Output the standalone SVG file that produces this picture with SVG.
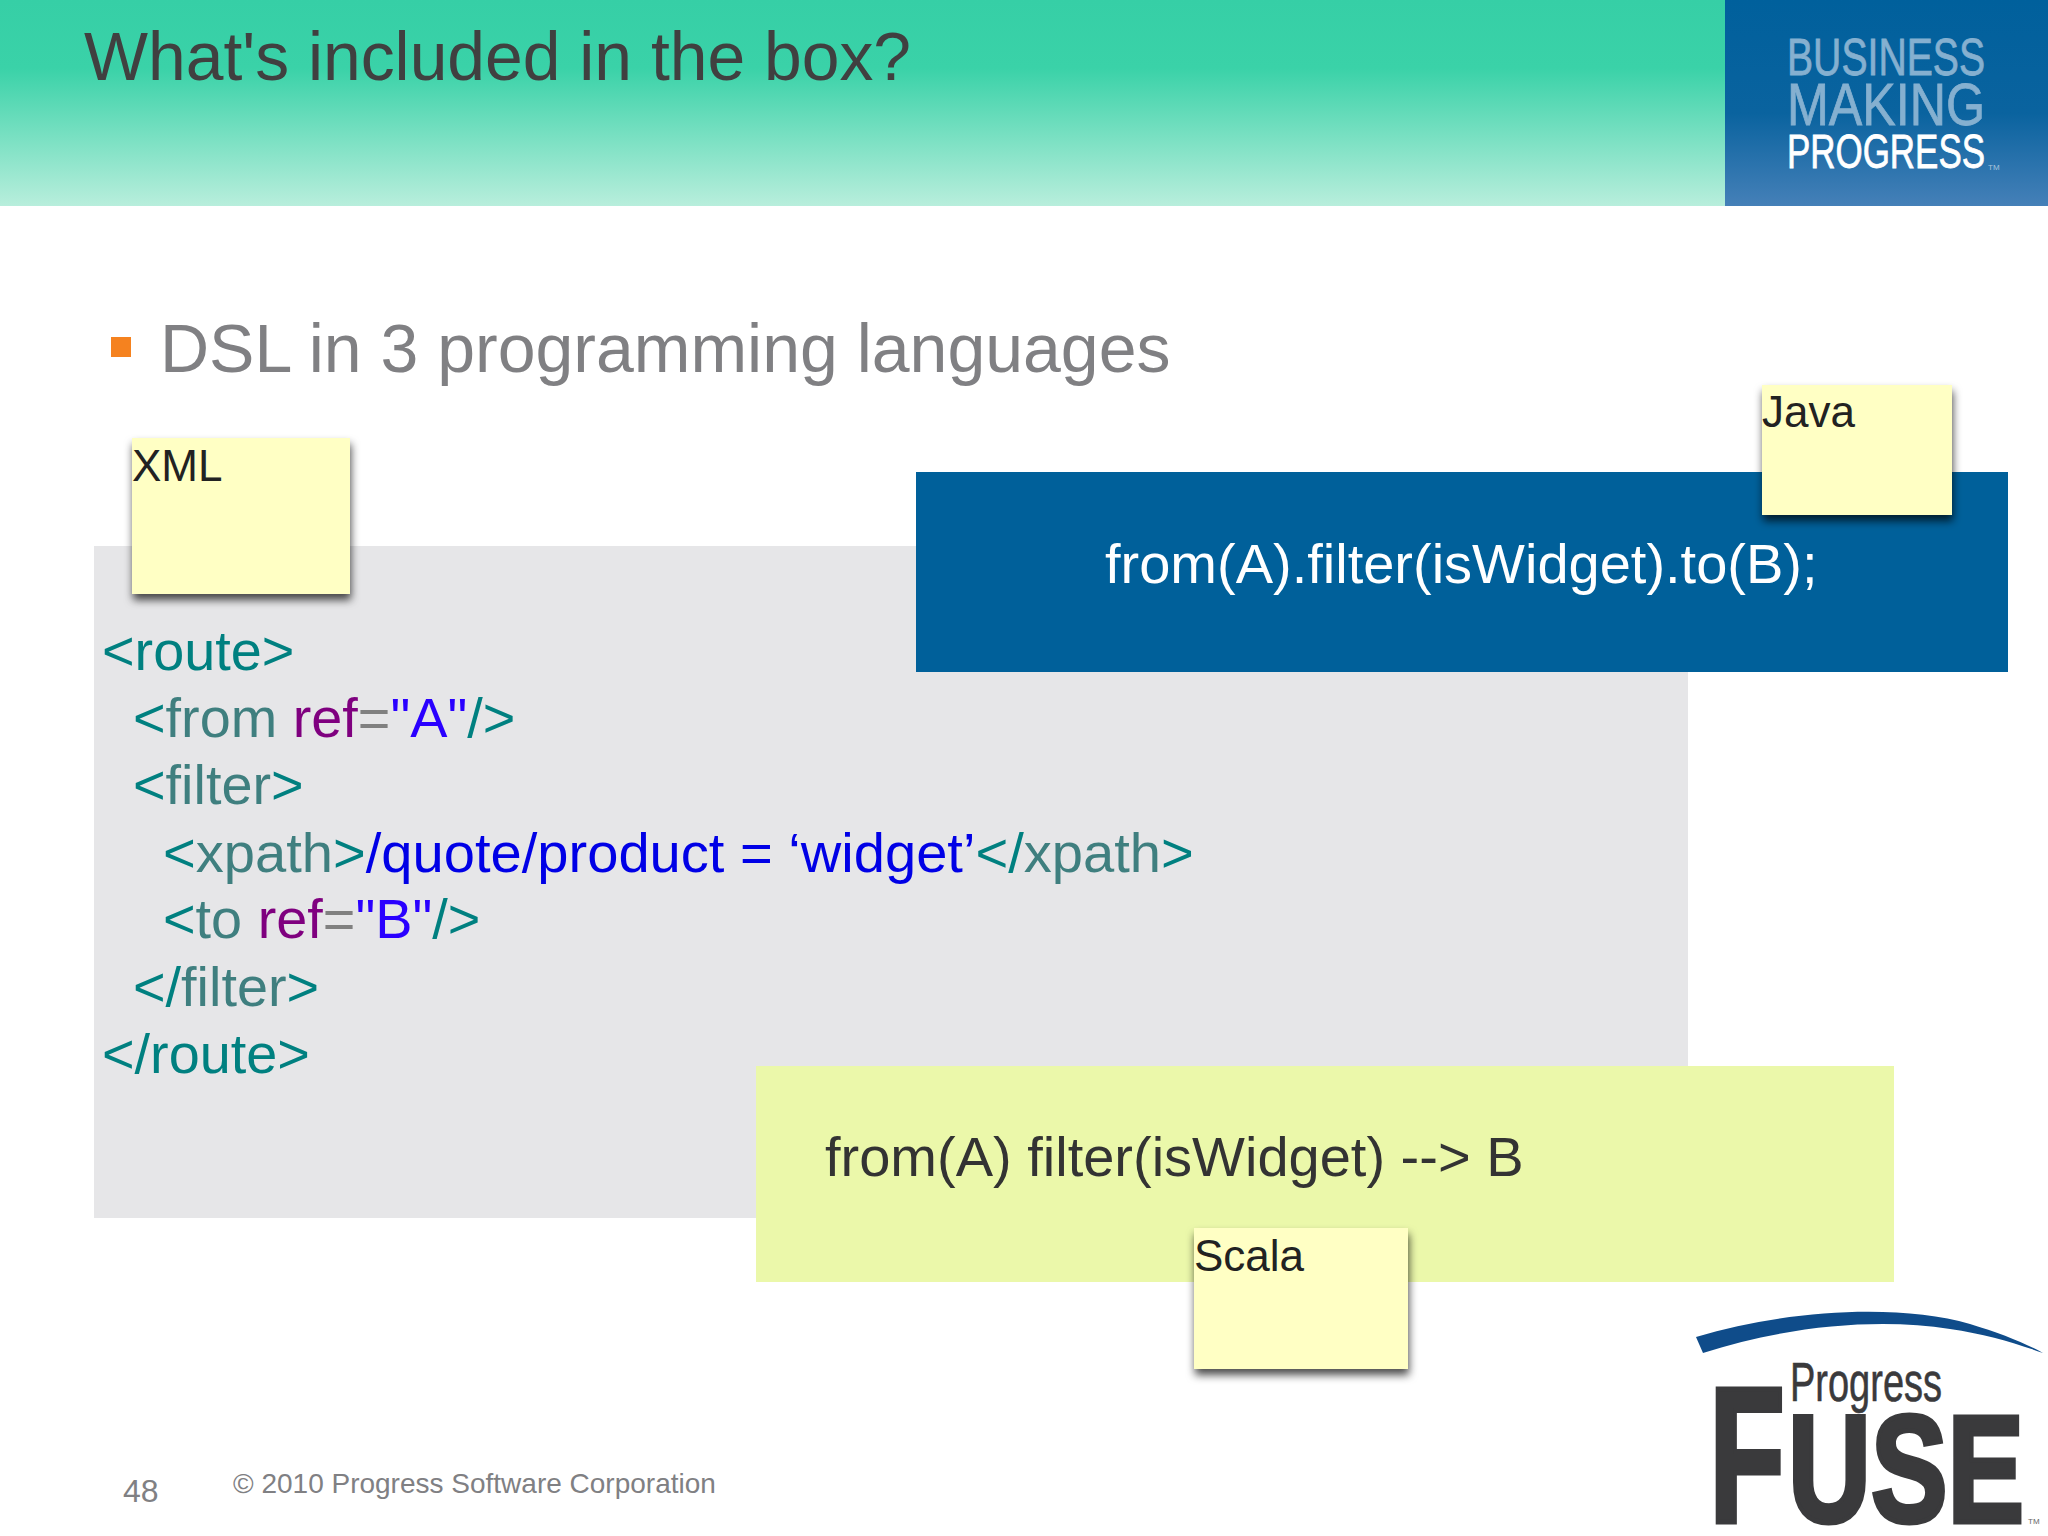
<svg xmlns="http://www.w3.org/2000/svg" width="2048" height="1536" viewBox="0 0 2048 1536">
<defs>
<linearGradient id="hdr" x1="0" y1="0" x2="0" y2="1"><stop offset="0" stop-color="#36cfa6"/><stop offset="0.33" stop-color="#3ad2a8"/><stop offset="1" stop-color="#b8eedc"/></linearGradient>
<linearGradient id="logo" x1="0" y1="0" x2="0" y2="1"><stop offset="0" stop-color="#00609c"/><stop offset="0.55" stop-color="#0a639f"/><stop offset="1" stop-color="#4580b8"/></linearGradient>
<filter id="sh" x="-10%" y="-10%" width="120%" height="125%"><feDropShadow dx="1" dy="6" stdDeviation="4" flood-color="#000" flood-opacity="0.7"/></filter>
</defs>
<style>
text{font-family:"Liberation Sans",Arial,sans-serif}
.code{font-size:55.8px;fill:#008080}
.tag{fill:#3f7f7f}.attr{fill:#7f007f}.eq{fill:#808080}.val{fill:#2a00ff}.body{fill:#0000e6}
.sticky{fill:#ffffc4;filter:url(#sh)}
.note{font-size:44px;fill:#222}
.logo{font-family:"Liberation Sans Narrow","Liberation Sans",sans-serif}
.heavy{fill:#3a3a3c;stroke:#3a3a3c;stroke-width:5}
</style>
<rect width="2048" height="1536" fill="#fff"/>
<g id="header">
<rect x="0" y="0" width="1725" height="206" fill="url(#hdr)"/>
<text x="84" y="80" font-size="67.8" fill="#404040">What's included in the box?</text>
</g>
<g id="brand">
<rect x="1725" y="0" width="323" height="206" fill="url(#logo)"/>
<text class="logo" x="1787" y="75" font-size="52" fill="#85b0d0" stroke="#85b0d0" stroke-width="0.8" textLength="198" lengthAdjust="spacingAndGlyphs">BUSINESS</text>
<text class="logo" x="1787" y="125" font-size="60" fill="#85b0d0" stroke="#85b0d0" stroke-width="0.8" textLength="198" lengthAdjust="spacingAndGlyphs">MAKING</text>
<text class="logo" x="1787" y="168" font-size="48" fill="#fff" stroke="#fff" stroke-width="0.8" textLength="198" lengthAdjust="spacingAndGlyphs">PROGRESS</text>
<text x="1988" y="170" font-size="8" fill="#a8c4dc">TM</text>
</g>
<g id="bullet">
<rect x="111" y="337" width="20" height="20" fill="#f5821f"/>
<text x="160" y="372" font-size="68" fill="#808083">DSL in 3 programming languages</text>
</g>
<g id="xml-panel">
<rect x="94" y="546" width="1594" height="672" fill="#e6e6e8"/>
<text class="code" x="102" y="670">&lt;<tspan>route</tspan>&gt;</text>
<text class="code" x="133" y="737">&lt;<tspan class="tag">from</tspan> <tspan class="attr">ref</tspan><tspan class="eq">=</tspan><tspan class="val">"A"</tspan>/&gt;</text>
<text class="code" x="133" y="804">&lt;<tspan class="tag">filter</tspan>&gt;</text>
<text class="code" x="163" y="872" style="font-size:56.1px">&lt;<tspan class="tag">xpath</tspan>&gt;<tspan class="body">/quote/product = ‘widget’</tspan>&lt;/<tspan class="tag">xpath</tspan>&gt;</text>
<text class="code" x="163" y="938">&lt;<tspan class="tag">to</tspan> <tspan class="attr">ref</tspan><tspan class="eq">=</tspan><tspan class="val">"B"</tspan>/&gt;</text>
<text class="code" x="133" y="1006">&lt;/<tspan class="tag">filter</tspan>&gt;</text>
<text class="code" x="102" y="1073">&lt;/<tspan>route</tspan>&gt;</text>
</g>
<g id="xml-note">
<rect class="sticky" x="132" y="438" width="218" height="156"/>
<text class="note" x="132" y="481">XML</text>
</g>
<g id="java-panel">
<rect x="916" y="472" width="1092" height="200" fill="#00609a"/>
<text x="1105" y="583" font-size="56" fill="#fff">from(A).filter(isWidget).to(B);</text>
</g>
<g id="java-note">
<rect class="sticky" x="1762" y="385" width="190" height="130"/>
<text class="note" x="1762" y="427">Java</text>
</g>
<g id="scala-panel">
<rect x="756" y="1066" width="1138" height="216" fill="#ebf8aa"/>
<text x="825" y="1176" font-size="56" fill="#333">from(A) filter(isWidget) --&gt; B</text>
</g>
<g id="scala-note">
<rect class="sticky" x="1194" y="1228" width="214" height="141"/>
<text class="note" x="1194" y="1271">Scala</text>
</g>
<g id="footer">
<text x="123" y="1502" font-size="32" fill="#808083">48</text>
<text x="233" y="1493" font-size="28" fill="#808083">© 2010 Progress Software Corporation</text>
</g>
<g id="fuse-logo">
<path d="M1696 1337C1790 1309 1900 1304 1970 1324C2000 1333 2025 1343 2043 1353C2015 1343 1985 1334 1950 1329C1880 1318 1790 1325 1703 1353Z" fill="#0f4c8a"/>
<text class="logo" x="1790" y="1401" font-size="56" fill="#3a3a3c" stroke="#3a3a3c" stroke-width="0.6" textLength="152" lengthAdjust="spacingAndGlyphs">Progress</text>
<text class="heavy" x="1709" y="1522" font-size="193" font-weight="bold" textLength="76" lengthAdjust="spacingAndGlyphs">F</text>
<text class="heavy" x="1788" y="1522" font-size="153" font-weight="bold" textLength="236" lengthAdjust="spacingAndGlyphs">USE</text>
<text x="2028" y="1524" font-size="8" fill="#666">TM</text>
</g>
</svg>
